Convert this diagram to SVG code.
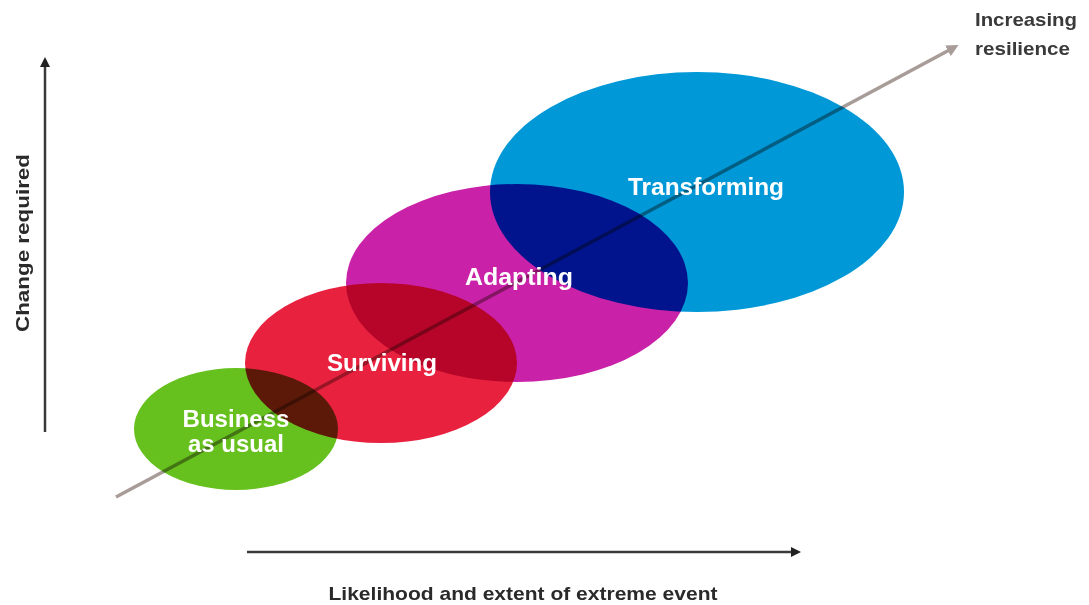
<svg xmlns="http://www.w3.org/2000/svg" width="1089" height="605" viewBox="0 0 1089 605">
<style>
.ax{stroke:#3a3a3a;stroke-width:2.5;fill:none}
.diag{stroke:#a89c98;stroke-width:3.5;fill:none}
.el{mix-blend-mode:multiply}
.lbl{font-family:"Liberation Sans",Arial,sans-serif;font-weight:bold;font-size:24px;fill:#ffffff;text-anchor:middle}
.axl{font-family:"Liberation Sans",Arial,sans-serif;font-weight:bold;font-size:19px;fill:#2a2a2a;text-anchor:middle}
.inc{font-family:"Liberation Sans",Arial,sans-serif;font-weight:bold;font-size:19px;fill:#3a3a3a}
</style>
<defs>
<marker id="ah" markerWidth="10" markerHeight="10" refX="7" refY="5" orient="auto" markerUnits="userSpaceOnUse" viewBox="0 0 10 10">
<path d="M0,0 L10,5 L0,10 z" fill="#222"/>
</marker>
<marker id="ahg" markerWidth="12" markerHeight="12" refX="8" refY="6" orient="auto" markerUnits="userSpaceOnUse" viewBox="0 0 12 12">
<path d="M0,0 L12,6 L0,12 z" fill="#a89c98"/>
</marker>
</defs>
<rect width="1089" height="605" fill="#ffffff"/>
<g id="connectors">
<line class="ax" x1="45" y1="432" x2="45" y2="60" marker-end="url(#ah)"/>
<line class="ax" x1="247" y1="552" x2="798" y2="552" marker-end="url(#ah)"/>
<line class="diag" x1="116" y1="497" x2="955" y2="47" marker-end="url(#ahg)"/>
</g>
<g id="node-business">
<ellipse class="el" cx="236" cy="429" rx="102" ry="61" fill="#66c11e"/>
</g>
<g id="node-surviving">
<ellipse class="el" cx="381" cy="363" rx="136" ry="80" fill="#e8213f"/>
</g>
<g id="node-adapting">
<ellipse class="el" cx="517" cy="283" rx="171" ry="99" fill="#c921a8"/>
</g>
<g id="node-transforming">
<ellipse class="el" cx="697" cy="192" rx="207" ry="120" fill="#0198d8"/>
</g>
<g id="labels">
<text class="lbl" x="236" y="427" textLength="107" lengthAdjust="spacingAndGlyphs">Business</text>
<text class="lbl" x="236" y="452" textLength="96" lengthAdjust="spacingAndGlyphs">as usual</text>
<text class="lbl" x="382" y="371" textLength="110" lengthAdjust="spacingAndGlyphs">Surviving</text>
<text class="lbl" x="519" y="285" textLength="108" lengthAdjust="spacingAndGlyphs">Adapting</text>
<text class="lbl" x="706" y="195" textLength="156" lengthAdjust="spacingAndGlyphs">Transforming</text>
</g>
<g id="axis-labels">
<text class="axl" transform="translate(29,243) rotate(-90)" textLength="178" lengthAdjust="spacingAndGlyphs">Change required</text>
<text class="axl" x="523" y="600" textLength="389" lengthAdjust="spacingAndGlyphs">Likelihood and extent of extreme event</text>
<text class="inc" x="975" y="26" textLength="102" lengthAdjust="spacingAndGlyphs">Increasing</text>
<text class="inc" x="975" y="55" textLength="95" lengthAdjust="spacingAndGlyphs">resilience</text>
</g>
</svg>
